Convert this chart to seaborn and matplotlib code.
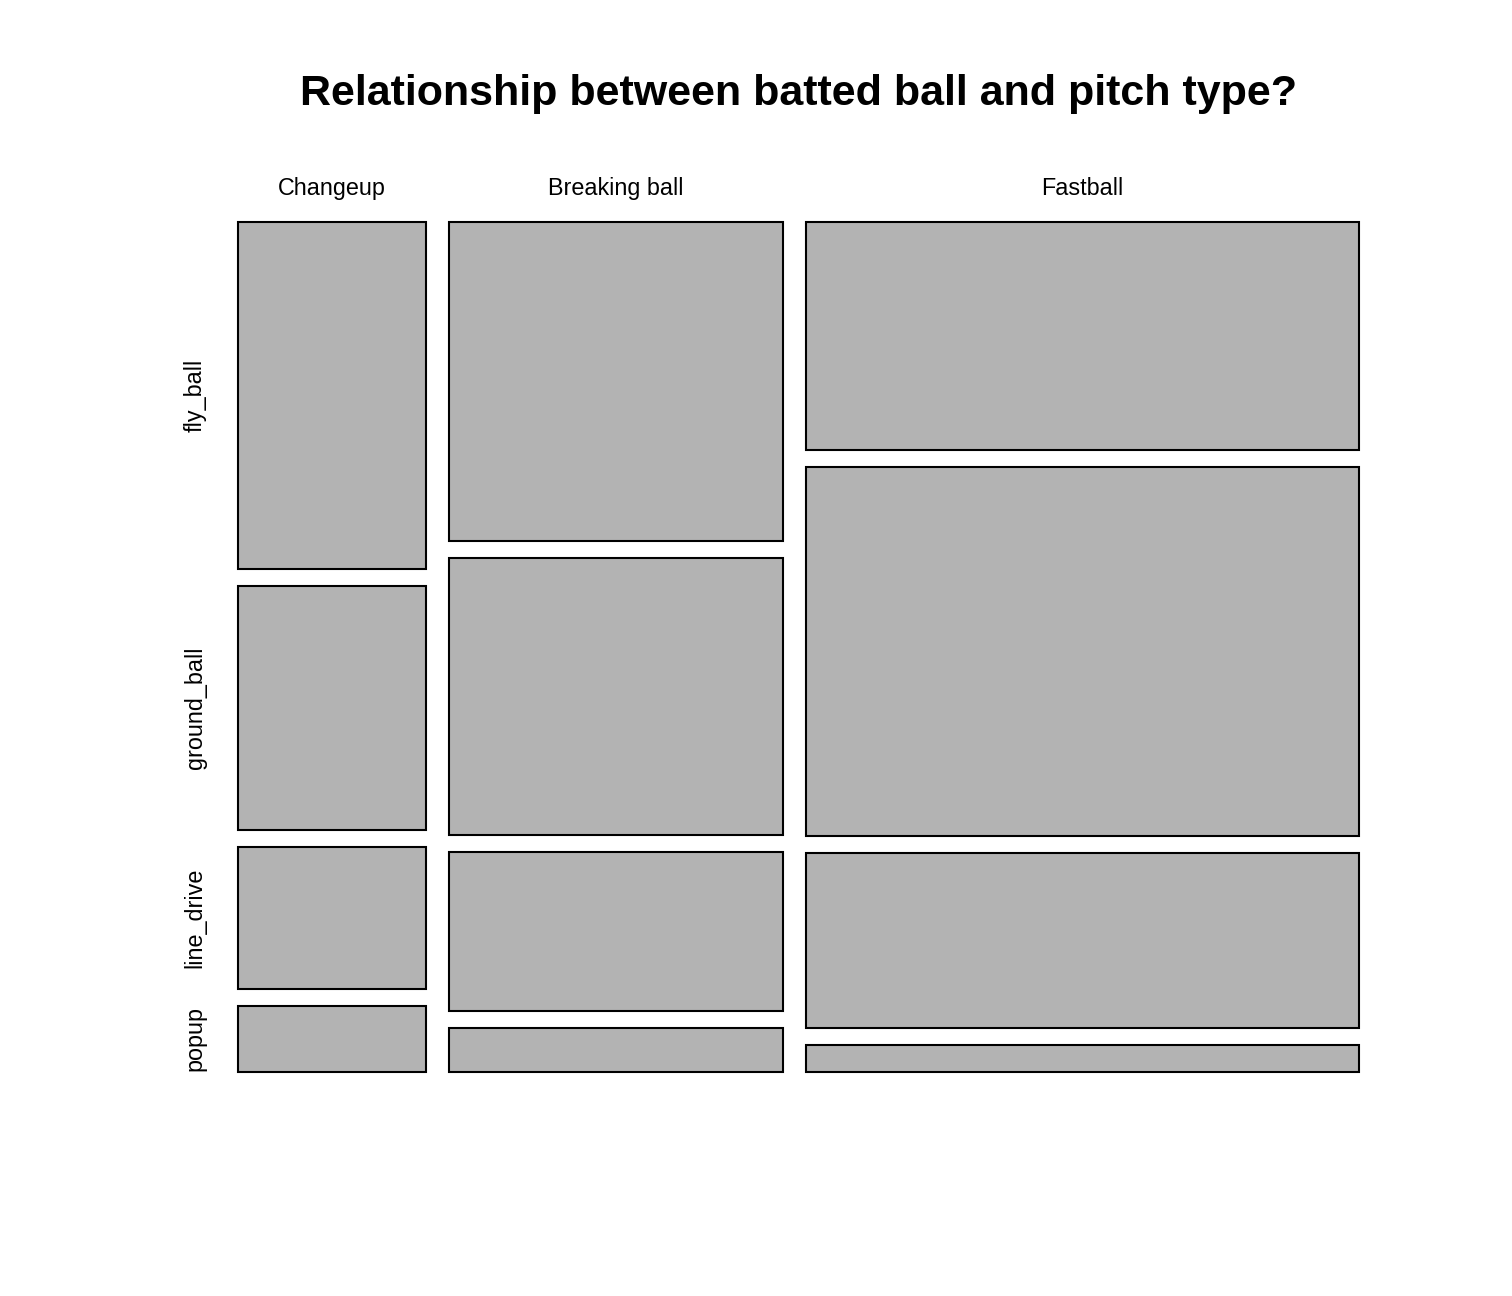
import matplotlib
matplotlib.use("Agg")
import matplotlib.pyplot as plt
import seaborn as sns
import numpy as np

pitch_types = ["Changeup", "Breaking ball", "Fastball"]
batted_types = ["fly_ball", "ground_ball", "line_drive", "popup"]
changeup_counts = [152, 107, 62, 29]
breaking_counts = [248, 215, 124, 34]
fastball_counts = [294, 475, 225, 35]

sns.set_theme(style="white")
plt.rcParams['font.family'] = ['Liberation Sans', 'DejaVu Sans']
plt.rcParams['text.color'] = 'black'

counts = np.array([changeup_counts, breaking_counts, fastball_counts], dtype=float)
col_tot = counts.sum(axis=1)
col_w = col_tot / col_tot.sum()
gap = 0.0214

fig = plt.figure(figsize=(15.12, 12.96), dpi=100)
ax = fig.add_axes([238/1512, 1 - 1072/1296, 1121/1512, 850/1296])
xmax = 1 + gap * (len(pitch_types) - 1)
ymax = 1 + gap * (len(batted_types) - 1)

x0 = 0.0
for i, p in enumerate(pitch_types):
    w = col_w[i]
    props = counts[i] / col_tot[i]
    y0 = 0.0
    for j, b in enumerate(batted_types):
        h = props[j]
        bars = ax.bar(x0, h, width=w, bottom=y0, align='edge', color='#b3b3b3',
                      edgecolor='black', linewidth=1.5)
        for r in bars:
            r.set_clip_on(False)
        if i == 0:
            ax.text(-0.04, y0 + h / 2, b, rotation=90, ha='center', va='center',
                    fontsize=16.8, color='black', clip_on=False)
        y0 += h + gap
    ax.text(x0 + w / 2, -0.042, p, ha='center', va='center', fontsize=16.8,
            color='black', clip_on=False)
    x0 += w + gap

ax.set_xlim(0, xmax)
ax.set_ylim(ymax, 0)
ax.axis('off')
fig.text(798.5/1512, 1 - 94/1296, "Relationship between batted ball and pitch type?",
         fontsize=31, fontweight='bold', ha='center', va='center', color='black')

fig.savefig("out.png", dpi=100)
